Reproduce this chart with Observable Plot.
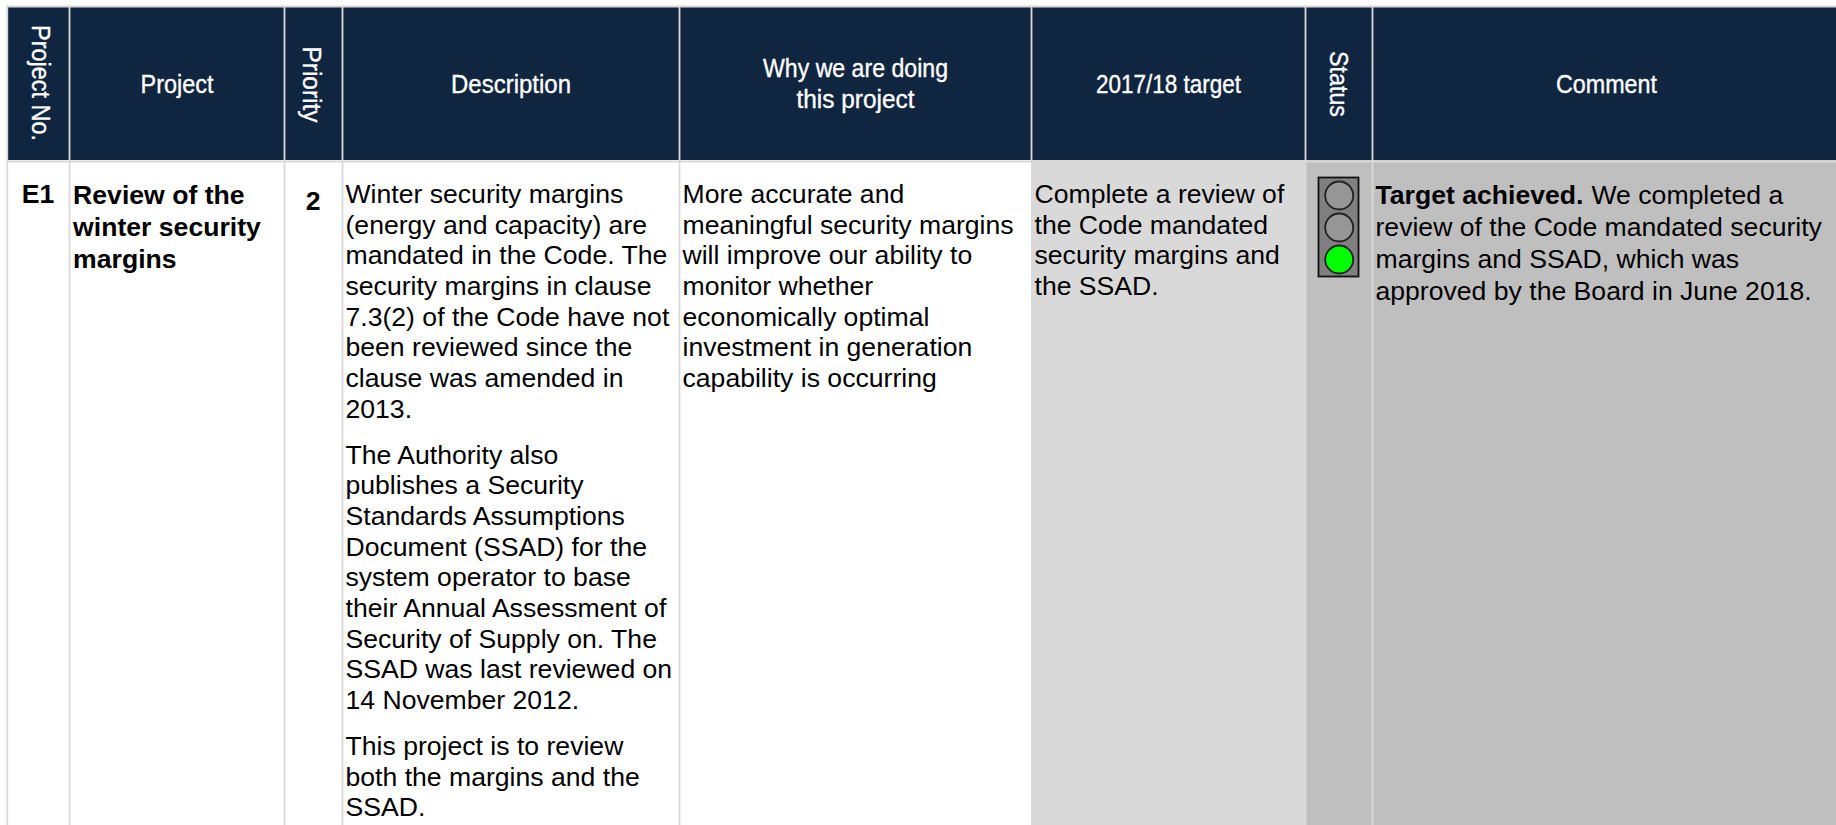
<!DOCTYPE html>
<html><head><meta charset="utf-8">
<script src="https://cdn.jsdelivr.net/npm/d3@7"></script>
<script src="https://cdn.jsdelivr.net/npm/@observablehq/plot@0.6"></script>
<style>html,body{margin:0;padding:0;background:#fff}svg{display:block}</style>
</head><body><div id="chart"></div>
<script>
const W = 1836, H = 825;
const headers = ["Project No.","Project","Priority","Description","Why we are doing\nthis project","2017/18 target","Status","Comment"];
const headerRotated = [true,false,true,false,false,false,true,false];
const headerLengths = {"Project No.":116,"Project":73,"Priority":76,"Description":120,"Why we are doing":185,"this project":118,"2017/18 target":145,"Status":66,"Comment":101};
const rotatedCentres = {"Project No.":[39.5,82.5],"Priority":[311,84],"Status":[1337.5,83.5]};
const colEdges = [7.7,69,284,342,679,1031,1305,1372,1840];
const headerTop = 7, headerBottom = 160;
const cellFills = [null,null,null,null,null,"#d9d9d9","#bfbfbf","#bfbfbf"];
const firstLine = 194, lineStep = 30.65, commentStep = 32, paraGap = 15.5;
const projectNo = "E1", priority = "2";
const projectLines = ["Review of the","winter security","margins"];
const descParas = [
 ["Winter security margins","(energy and capacity) are","mandated in the Code. The","security margins in clause","7.3(2) of the Code have not","been reviewed since the","clause was amended in","2013."],
 ["The Authority also","publishes a Security","Standards Assumptions","Document (SSAD) for the","system operator to base","their Annual Assessment of","Security of Supply on. The","SSAD was last reviewed on","14 November 2012."],
 ["This project is to review","both the margins and the","SSAD."]
];
const whyLines = ["More accurate and","meaningful security margins","will improve our ability to","monitor whether","economically optimal","investment in generation","capability is occurring"];
const targetLines = ["Complete a review of","the Code mandated","security margins and","the SSAD."];
const commentBold = "Target achieved.";
const commentFirst = "We completed a";
const commentLines = ["review of the Code mandated security","margins and SSAD, which was","approved by the Board in June 2018."];
const lampColors = ["#969696","#969696","#00ff00"];

const cols = headers.map((h,i)=>({h,rot:headerRotated[i],x1:colEdges[i],x2:colEdges[i+1],fill:cellFills[i]}));
const bodyFont = "Liberation Sans, Arial, sans-serif";
const fs = 26.6;

const body = [];
const put = (lines,x,start=firstLine,step=lineStep)=>lines.forEach((t,i)=>body.push({t,x,y:start+i*step}));
let y0 = firstLine;
descParas.forEach(p=>{put(p,colEdges[3]+3,y0); y0+=p.length*lineStep+paraGap;});
put(whyLines,colEdges[4]+3);
put(targetLines,colEdges[5]+3);
put(commentLines,colEdges[7]+3,firstLine+1+commentStep,commentStep);

const headerText = [];
cols.forEach(c=>c.h.split("\n").forEach((t,i,a)=>{
  const r = rotatedCentres[t];
  headerText.push({t,rot:c.rot,x:r?r[0]:(c.x1+c.x2)/2,y:r?r[1]:84+(i-(a.length-1)/2)*31});
}));

const lamp = lampColors.map((fill,i)=>({fill,x:1338.7,y:195+i*32}));

const plot = Plot.plot({
  width:W,height:H,margin:0,
  x:{domain:[0,W],range:[0,W],axis:null},
  y:{domain:[0,H],range:[0,H],axis:null},
  style:{background:"#fff"},
  marks:[
    Plot.rect(cols.filter(c=>c.fill),{x1:"x1",x2:"x2",y1:headerBottom,y2:H,fill:"fill"}),
    Plot.rect(cols,{x1:"x1",x2:"x2",y1:headerTop,y2:headerBottom,fill:"#10253f"}),
    Plot.ruleX(colEdges.slice(1,3).concat(colEdges.slice(3,5),colEdges.slice(6,8)),{y1:headerTop,y2:H,stroke:"#d9d9d9",strokeWidth:1.8}),
    Plot.ruleX([colEdges[5]],{y1:headerTop,y2:headerBottom,stroke:"#d9d9d9",strokeWidth:1.8}),
    Plot.ruleX([colEdges[0]-0.9],{y1:headerTop-2,y2:H,stroke:"#d9d9d9",strokeWidth:1.8}),
    Plot.ruleY([headerBottom+1],{x1:colEdges[0],x2:W,stroke:"#d9d9d9",strokeWidth:2}),
    Plot.ruleY([headerTop-1],{x1:colEdges[0],x2:W,stroke:"#d9d9d9",strokeWidth:2}),
    Plot.text(headerText.filter(d=>!d.rot),{x:"x",y:"y",text:"t",fill:"#fff",stroke:"#fff",strokeWidth:0.35,fontSize:25.5,fontFamily:bodyFont,textAnchor:"middle",className:"hdr"}),
    Plot.text(headerText.filter(d=>d.rot),{x:"x",y:"y",text:"t",fill:"#fff",stroke:"#fff",strokeWidth:0.35,fontSize:25.5,fontFamily:bodyFont,textAnchor:"middle",rotate:90,className:"hdr"}),
    Plot.text(body,{x:"x",y:"y",text:"t",fill:"#000",fontSize:fs,fontFamily:bodyFont,textAnchor:"start"}),
    Plot.text(projectLines.map((t,i)=>({t,y:firstLine+1+i*commentStep})),{x:colEdges[1]+3.6,y:"y",text:"t",fill:"#000",fontSize:fs,fontWeight:"bold",fontFamily:bodyFont,textAnchor:"start"}),
    Plot.text([projectNo],{x:37.5,y:194,text:d=>d,fontSize:fs,fontWeight:"bold",fontFamily:bodyFont,textAnchor:"middle"}),
    Plot.text([priority],{x:312.6,y:201,text:d=>d,fontSize:fs,fontWeight:"bold",fontFamily:bodyFont,textAnchor:"middle"}),
    Plot.text([commentBold],{x:colEdges[7]+3,y:firstLine+1,text:d=>d,fontSize:fs,fontWeight:"bold",fontFamily:bodyFont,textAnchor:"start"}),
    Plot.text([commentFirst],{x:1591,y:firstLine+1,text:d=>d,fontSize:fs,fontFamily:bodyFont,textAnchor:"start"}),
    Plot.rect([0],{x1:1318.5,x2:1358.5,y1:177.5,y2:276.5,fill:"#808080",stroke:"#111",strokeWidth:1.8}),
    Plot.dot(lamp,{x:"x",y:"y",r:14,fill:"fill",stroke:"#222",strokeWidth:1.8})
  ]
});
d3.select(plot).selectAll(".hdr text").each(function(){
  const n = headerLengths[this.textContent];
  if (n) { this.setAttribute("textLength", n); this.setAttribute("lengthAdjust", "spacingAndGlyphs"); }
});
document.getElementById("chart").append(plot);
</script></body></html>
